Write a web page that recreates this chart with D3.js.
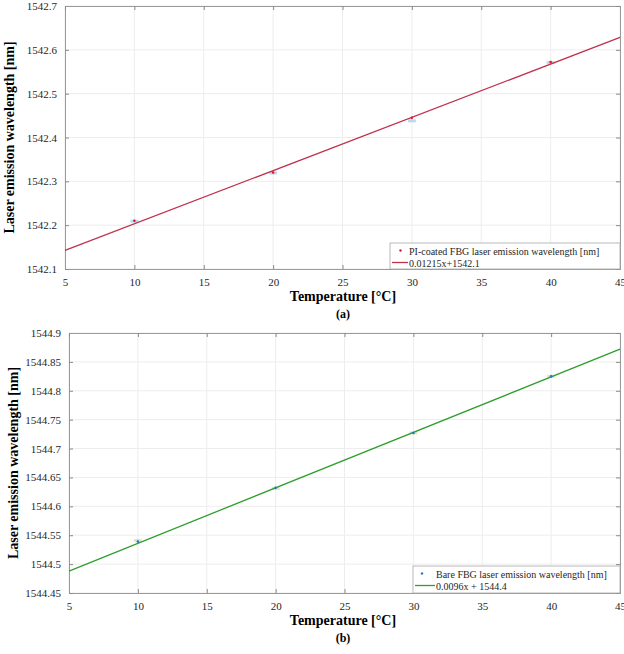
<!DOCTYPE html>
<html>
<head>
<meta charset="utf-8">
<script src="https://cdn.jsdelivr.net/npm/d3@7"></script>
<style>
  body { margin: 0; background: #fff; }
  svg { display: block; font-family: 'Liberation Serif', 'Times New Roman', serif; }
  .tick text { font-family: 'Liberation Serif', 'Times New Roman', serif; font-size: 11px; fill: #262626; }
</style>
</head>
<body>
<svg id="svg" width="624" height="654"></svg>
<script>
// temperatures of the measurements [°C]
const temps = [10, 20, 30, 40];
// (a) PI-coated FBG laser emission wavelength [nm]
const piWavelength = [1542.21, 1542.32, 1542.445, 1542.572];
// repeat readings shown as faint dashes
const piRepeat = [1542.209, 1542.319, 1542.438, 1542.571];
// (b) bare FBG laser emission wavelength [nm]
const bareWavelength = [1544.539, 1544.632, 1544.727, 1544.825];
const bareRepeat = [1544.541, 1544.631, 1544.727, 1544.825];

// linear fits [slope, intercept]
const piFit = [0.01215, 1542.0815];
const bareFit = [0.0096, 1544.44];

const xTicks = [5, 10, 15, 20, 25, 30, 35, 40, 45];
const piTicks = [1542.1, 1542.2, 1542.3, 1542.4, 1542.5, 1542.6, 1542.7];
const bareTicks = [1544.45, 1544.5, 1544.55, 1544.6, 1544.65, 1544.7, 1544.75, 1544.8, 1544.85, 1544.9];

const piLegend = ['PI-coated FBG laser emission wavelength [nm]', '0.01215x+1542.1'];
const bareLegend = ['Bare FBG laser emission wavelength [nm]', '0.0096x + 1544.4'];

class FitChart {
  constructor(_config, _x, _y, _rep, _fit, _yTicks, _legend) {
    this.config = _config;
    this.xData = _x;
    this.yData = _y;
    this.repData = _rep;
    this.fit = _fit;
    this.yTicks = _yTicks;
    this.legendText = _legend;
    this.initVis();
  }

  initVis() {
    let vis = this;
    let c = vis.config;
    vis.width = c.right - c.left;
    vis.height = c.bottom - c.top;

    vis.chartArea = d3.select('#svg').append('g')
      .attr('transform', `translate(${c.left},${c.top})`);

    vis.xScale = d3.scaleLinear().domain([5, 45]).range([0, vis.width]);
    vis.yScale = d3.scaleLinear()
      .domain(d3.extent(vis.yTicks))
      .range([vis.height, 0]);

    // grid
    vis.chartArea.append('g').selectAll('line')
      .data(xTicks)
      .join('line')
      .attr('x1', d => vis.xScale(d)).attr('x2', d => vis.xScale(d))
      .attr('y1', 0).attr('y2', vis.height)
      .attr('stroke', '#ededed');
    vis.chartArea.append('g').selectAll('line')
      .data(vis.yTicks)
      .join('line')
      .attr('y1', d => vis.yScale(d)).attr('y2', d => vis.yScale(d))
      .attr('x1', 0).attr('x2', vis.width)
      .attr('stroke', '#ededed');

    // axes
    vis.xAxis = d3.axisBottom(vis.xScale).tickValues(xTicks).tickSize(-4).tickPadding(9);
    vis.yAxis = d3.axisLeft(vis.yScale).tickValues(vis.yTicks).tickFormat(d => String(d)).tickSize(-4).tickPadding(8);

    vis.xAxisG = vis.chartArea.append('g')
      .attr('transform', `translate(0,${vis.height})`)
      .call(vis.xAxis);
    vis.yAxisG = vis.chartArea.append('g').call(vis.yAxis);
    vis.chartArea.append('g')
      .call(d3.axisTop(vis.xScale).tickValues(xTicks).tickSize(-4).tickFormat(''));
    vis.chartArea.append('g')
      .attr('transform', `translate(${vis.width},0)`)
      .call(d3.axisRight(vis.yScale).tickValues(vis.yTicks).tickSize(-4).tickFormat(''));

    vis.chartArea.selectAll('.domain').attr('stroke', '#9a9a9a');
    vis.chartArea.selectAll('.tick line').attr('stroke', '#8a8a8a');
    vis.chartArea.selectAll('.tick text')
      .attr('font-family', "'Liberation Serif', serif")
      .attr('font-size', 11);

    vis.chartArea.append('text')
      .attr('transform', `translate(${-51},${vis.height / 2}) rotate(-90)`)
      .attr('text-anchor', 'middle')
      .style('font-size', '14px')
      .style('font-weight', 'bold')
      .text('Laser emission wavelength [nm]');

    vis.chartArea.append('text')
      .attr('x', c.titleX - c.left)
      .attr('y', vis.height + 32)
      .attr('text-anchor', 'middle')
      .style('font-size', '14px')
      .style('font-weight', 'bold')
      .text('Temperature [\u00B0C]');

    vis.chartArea.append('text')
      .attr('x', c.titleX - c.left)
      .attr('y', vis.height + 49)
      .attr('text-anchor', 'middle')
      .style('font-size', '12px')
      .style('font-weight', 'bold')
      .text(c.caption);

    vis.renderVis();
  }

  renderVis() {
    let vis = this;
    let c = vis.config;
    let pts = vis.xData.map((d, i) => [d, vis.yData[i], vis.repData[i]]);

    vis.chartArea.selectAll('.rep')
      .data(pts)
      .join('rect')
      .attr('class', 'rep')
      .attr('x', d => vis.xScale(d[0]) - 4)
      .attr('y', d => vis.yScale(d[2]) - 1.5)
      .attr('width', 8)
      .attr('height', 3)
      .attr('fill', c.repColour)
      .attr('opacity', 0.6);

    let fitDomain = vis.xScale.domain();
    vis.chartArea.append('line')
      .attr('x1', vis.xScale(fitDomain[0]))
      .attr('y1', vis.yScale(vis.fit[0] * fitDomain[0] + vis.fit[1]))
      .attr('x2', vis.xScale(fitDomain[1]))
      .attr('y2', vis.yScale(vis.fit[0] * fitDomain[1] + vis.fit[1]))
      .attr('stroke', c.lineColour)
      .attr('stroke-width', 1.3);

    vis.chartArea.selectAll('.pt')
      .data(pts)
      .join('circle')
      .attr('class', 'pt')
      .attr('cx', d => vis.xScale(d[0]))
      .attr('cy', d => vis.yScale(d[1]))
      .attr('r', 1.3)
      .attr('fill', c.pointColour);

    // legend
    let lg = d3.select('#svg').append('g')
      .attr('transform', `translate(${c.legend[0]},${c.legend[1]})`);
    lg.append('rect')
      .attr('width', c.right - c.legend[0])
      .attr('height', c.bottom - c.legend[1])
      .attr('fill', '#fff')
      .attr('stroke', '#a8a8a8')
      .attr('stroke-width', 0.8);
    lg.append('circle')
      .attr('cx', c.markerX - c.legend[0])
      .attr('cy', 7.5)
      .attr('r', 1.2)
      .attr('fill', c.pointColour);
    lg.append('line')
      .attr('x1', 2).attr('x2', c.legendText - c.legend[0] - 1)
      .attr('y1', 19.5).attr('y2', 19.5)
      .attr('stroke', c.lineColour)
      .attr('stroke-width', 1.3);
    lg.selectAll('text')
      .data(vis.legendText)
      .join('text')
      .attr('x', c.legendText - c.legend[0])
      .attr('y', (d, i) => 11.5 + i * 12)
      .style('font-size', '10px')
      .attr('fill', '#262626')
      .text(d => d);
  }
}

new FitChart({
  left: 65, right: 620, top: 6, bottom: 269, titleX: 343,
  caption: '(a)', lineColour: '#c0324c', pointColour: '#e31a1c', repColour: '#8fc3ea',
  legend: [390, 243], legendText: 409, markerX: 400.5
}, temps, piWavelength, piRepeat, piFit, piTicks, piLegend);

new FitChart({
  left: 69, right: 620, top: 333, bottom: 593, titleX: 343,
  caption: '(b)', lineColour: '#2f9e2f', pointColour: '#1f77d4', repColour: '#c8dc8a',
  legend: [413, 566], legendText: 436, markerX: 422
}, temps, bareWavelength, bareRepeat, bareFit, bareTicks, bareLegend);
</script>
</body>
</html>
